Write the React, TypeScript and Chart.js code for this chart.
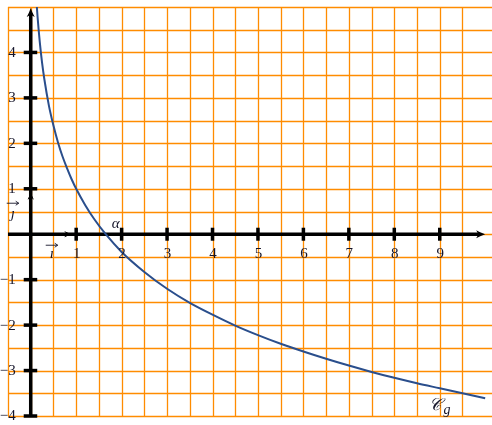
import { useEffect, useRef } from 'react';
import { Chart, registerables } from 'chart.js';
Chart.register(...registerables);

// Curve C_g
const curveX = [0.11, 0.135, 0.15, 0.2, 0.25, 0.3, 0.4, 0.5, 0.6, 0.7, 0.8, 0.9, 1, 1.2, 1.4, 1.65, 2, 2.5, 3, 3.5, 4, 4.5, 5, 5.5, 6, 6.5, 7, 7.5, 8, 8.5, 9, 9.5, 10];
const curveY = [5.41, 5.0, 4.79, 4.22, 3.77, 3.41, 2.83, 2.39, 2.02, 1.71, 1.45, 1.21, 1.0, 0.64, 0.33, 0.0, -0.39, -0.83, -1.2, -1.51, -1.77, -2.01, -2.22, -2.41, -2.58, -2.74, -2.89, -3.03, -3.16, -3.28, -3.39, -3.5, -3.61];

const xTickValues = [1, 2, 3, 4, 5, 6, 7, 8, 9];
const xTickLabels = ['1', '2', '3', '4', '5', '6', '7', '8', '9'];
const yTickValues = [4, 3, 2, 1, -1, -2, -3, -4];
const yTickLabels = ['4', '3', '2', '1', '\u22121', '\u22122', '\u22123', '\u22124'];

const xMin = -0.5;
const xMax = 10.15;
const yMin = -4;
const yMax = 5;
const gridXMax = 9.5;
const gridStep = 0.5;

const ORANGE = '#ff8c00';
const CURVE = '#2a4e8c';
const TXT = '#15152a';

function arrowHead(ctx: CanvasRenderingContext2D, x: number, y: number, dir: 'up' | 'right', size: number, width: number) {
  ctx.beginPath();
  if (dir === 'up') {
    ctx.moveTo(x, y);
    ctx.quadraticCurveTo(x - size * 0.2, y + size * 0.6, x - width, y + size);
    ctx.lineTo(x, y + size * 0.75);
    ctx.lineTo(x + width, y + size);
    ctx.quadraticCurveTo(x + size * 0.2, y + size * 0.6, x, y);
  } else {
    ctx.moveTo(x, y);
    ctx.quadraticCurveTo(x - size * 0.6, y - size * 0.2, x - size, y - width);
    ctx.lineTo(x - size * 0.75, y);
    ctx.lineTo(x - size, y + width);
    ctx.quadraticCurveTo(x - size * 0.6, y + size * 0.2, x, y);
  }
  ctx.closePath();
  ctx.fill();
}

const overlay = {
  id: 'overlay',
  beforeDatasetsDraw(chart: any) {
    const ctx: CanvasRenderingContext2D = chart.ctx;
    const xs = chart.scales.x;
    const ys = chart.scales.y;
    const area = chart.chartArea;
    ctx.save();
    // grid
    ctx.strokeStyle = ORANGE;
    ctx.lineWidth = 1.3;
    const top = ys.getPixelForValue(yMax);
    const bottom = ys.getPixelForValue(yMin);
    const left = xs.getPixelForValue(xMin);
    for (let v = xMin; v <= gridXMax + 1e-9; v += gridStep) {
      const p = Math.round(xs.getPixelForValue(v)) + 0.5;
      ctx.beginPath();
      ctx.moveTo(p, top);
      ctx.lineTo(p, bottom);
      ctx.stroke();
    }
    for (let v = yMin; v <= yMax + 1e-9; v += gridStep) {
      const p = Math.round(ys.getPixelForValue(v)) + 0.5;
      ctx.beginPath();
      ctx.moveTo(left, p);
      ctx.lineTo(area.right, p);
      ctx.stroke();
    }
    // axes
    const ox = xs.getPixelForValue(0);
    const oy = ys.getPixelForValue(0);
    ctx.strokeStyle = '#000';
    ctx.fillStyle = '#000';
    ctx.lineWidth = 3.5;
    ctx.beginPath();
    ctx.moveTo(ox, bottom);
    ctx.lineTo(ox, top + 6);
    ctx.stroke();
    arrowHead(ctx, ox, top + 1, 'up', 9, 4);
    const xEnd = xs.getPixelForValue(10);
    ctx.beginPath();
    ctx.moveTo(left, oy);
    ctx.lineTo(xEnd - 6, oy);
    ctx.stroke();
    arrowHead(ctx, xEnd, oy, 'right', 9, 4);
    // ticks
    ctx.lineWidth = 3.5;
    for (const v of xTickValues) {
      const p = xs.getPixelForValue(v);
      ctx.beginPath();
      ctx.moveTo(p, oy - 6.5);
      ctx.lineTo(p, oy + 6.5);
      ctx.stroke();
    }
    for (const v of yTickValues) {
      const p = ys.getPixelForValue(v);
      ctx.beginPath();
      ctx.moveTo(ox - 7, p);
      ctx.lineTo(ox + 6.5, p);
      ctx.stroke();
    }
    // unit vector heads
    ctx.lineWidth = 1;
    const ix = xs.getPixelForValue(0.88);
    ctx.beginPath();
    ctx.moveTo(ix - 6, oy - 2.5);
    ctx.quadraticCurveTo(ix - 2, oy - 0.5, ix, oy);
    ctx.quadraticCurveTo(ix - 2, oy + 0.5, ix - 6, oy + 2.5);
    ctx.stroke();
    const jy = ys.getPixelForValue(0.9);
    ctx.beginPath();
    ctx.moveTo(ox - 2.5, jy + 6);
    ctx.quadraticCurveTo(ox - 0.5, jy + 2, ox, jy);
    ctx.quadraticCurveTo(ox + 0.5, jy + 2, ox + 2.5, jy + 6);
    ctx.stroke();
    ctx.restore();
  },
  afterDatasetsDraw(chart: any) {
    const ctx: CanvasRenderingContext2D = chart.ctx;
    const xs = chart.scales.x;
    const ys = chart.scales.y;
    const ox = xs.getPixelForValue(0);
    const oy = ys.getPixelForValue(0);
    ctx.save();
    ctx.fillStyle = TXT;
    ctx.font = '15px "Liberation Serif", serif';
    ctx.textAlign = 'center';
    ctx.textBaseline = 'middle';
    xTickValues.forEach((v, i) => {
      ctx.fillText(xTickLabels[i], xs.getPixelForValue(v) + 0.5, oy + 20);
    });
    ctx.textAlign = 'right';
    yTickValues.forEach((v, i) => {
      ctx.fillText(yTickLabels[i], ox - 15, ys.getPixelForValue(v) + 0.5);
    });
    // vector labels
    ctx.font = 'italic 15px "Liberation Serif", serif';
    ctx.textAlign = 'center';
    ctx.fillText('\u0131', ox + 21, oy + 20);
    ctx.fillText('\u0237', ox - 18, oy - 20);
    ctx.strokeStyle = TXT;
    ctx.lineWidth = 0.9;
    const smallArrow = (x1: number, x2: number, y: number) => {
      ctx.beginPath();
      ctx.moveTo(x1, y);
      ctx.lineTo(x2, y);
      ctx.moveTo(x2 - 3, y - 2);
      ctx.lineTo(x2, y);
      ctx.lineTo(x2 - 3, y + 2);
      ctx.stroke();
    };
    smallArrow(ox + 15, ox + 27, oy + 11);
    smallArrow(ox - 24, ox - 12, oy - 31);
    // alpha
    ctx.fillText('\u03b1', xs.getPixelForValue(1.87), ys.getPixelForValue(0.22));
    // C_g
    ctx.font = 'italic 17px "DejaVu Serif", serif';
    ctx.fillText('\ud835\udc9e', xs.getPixelForValue(8.9), ys.getPixelForValue(-3.77));
    ctx.font = 'italic 14px "Liberation Serif", serif';
    ctx.fillText('g', xs.getPixelForValue(9.16), ys.getPixelForValue(-3.87));
    ctx.restore();
  },
};

export default function App() {
  const canvasRef = useRef<HTMLCanvasElement | null>(null);
  useEffect(() => {
    if (!canvasRef.current) return;
    const points = curveX.map((x, i) => ({ x, y: curveY[i] }));
    const chart = new Chart(canvasRef.current, {
      type: 'scatter',
      data: {
        datasets: [
          {
            data: points,
            showLine: true,
            borderColor: CURVE,
            borderWidth: 2,
            pointRadius: 0,
            fill: false,
            cubicInterpolationMode: 'monotone',
          } as any,
        ],
      },
      options: {
        animation: false,
        responsive: true,
        maintainAspectRatio: false,
        layout: { padding: { left: 8, right: 0, top: 7, bottom: 9 } },
        plugins: { legend: { display: false }, tooltip: { enabled: false } },
        scales: {
          x: { type: 'linear', display: false, min: xMin, max: xMax },
          y: { type: 'linear', display: false, min: yMin, max: yMax },
        },
      },
      plugins: [overlay],
    });
    return () => chart.destroy();
  }, []);
  return (
    <div style={{ position: 'absolute', left: 0, top: 0, width: 492, height: 425 }}>
      <canvas ref={canvasRef} />
    </div>
  );
}
